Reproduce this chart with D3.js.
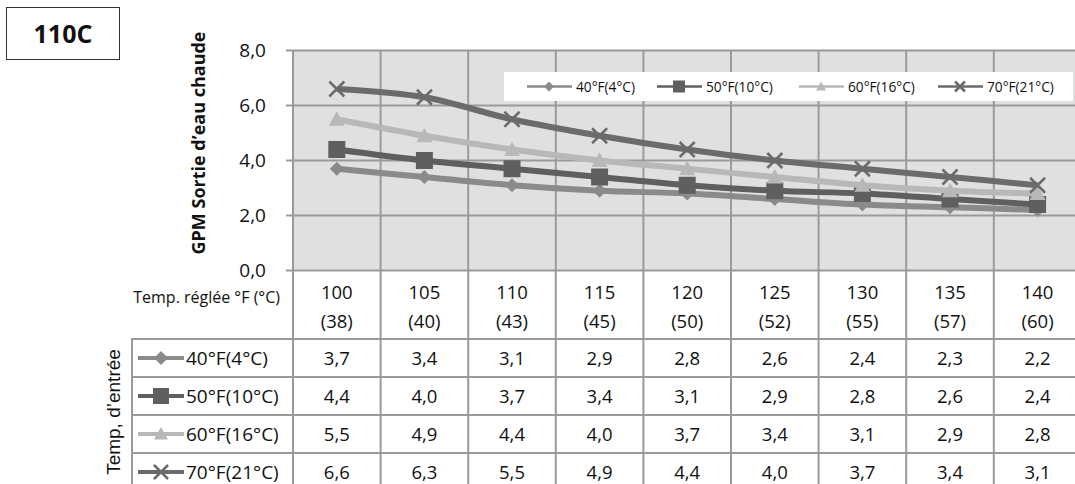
<!DOCTYPE html>
<html><head><meta charset="utf-8">
<script src="https://cdn.jsdelivr.net/npm/d3@7"></script>
<style>
html,body{margin:0;padding:0;background:#fff;}
svg{display:block;}
</style></head>
<body>
<svg id="c" width="1075" height="484"></svg>
<script>
const tempF = ["100","105","110","115","120","125","130","135","140"];
const tempC = ["(38)","(40)","(43)","(45)","(50)","(52)","(55)","(57)","(60)"];
const seriesNames = ["40°F(4°C)","50°F(10°C)","60°F(16°C)","70°F(21°C)"];
const s40 = [3.7,3.4,3.1,2.9,2.8,2.6,2.4,2.3,2.2];
const s50 = [4.4,4.0,3.7,3.4,3.1,2.9,2.8,2.6,2.4];
const s60 = [5.5,4.9,4.4,4.0,3.7,3.4,3.1,2.9,2.8];
const s70 = [6.6,6.3,5.5,4.9,4.4,4.0,3.7,3.4,3.1];
const yTicks = [0,2,4,6,8];
const yTickLabels = ["0,0","2,0","4,0","6,0","8,0"];

const seriesValues = [s40,s50,s60,s70];
const colors = ["#8a8a8a","#5f5f5f","#b8b8b8","#6b6b6b"];
const markers = ["diamond","square","triangle","x"];

const svg = d3.select("#c");
const font = "'Open Sans', sans-serif";
const gridCol = "#9a9a9a";

const left = 293, colW = 87.6;
const x = d3.scaleBand().domain(tempF).range([left, left + colW*tempF.length]).padding(0);
const y = d3.scaleLinear().domain([0,8]).range([270.5, 50.5]);
const right = x.range()[1];

// title box
svg.append("rect").attr("x",6.5).attr("y",7.5).attr("width",113).attr("height",52)
  .attr("fill","#fff").attr("stroke","#333").attr("stroke-width",1);
svg.append("text").attr("x",63).attr("y",43).attr("text-anchor","middle")
  .attr("font-family",font).attr("font-weight","bold").attr("font-size",25).attr("fill","#111").text("110C");

// plot background
svg.append("rect").attr("x",left).attr("y",y(8)).attr("width",right-left).attr("height",y(0)-y(8)).attr("fill","#e0e0e0");

// horizontal gridlines
svg.append("g").selectAll("line").data(yTicks).join("line")
  .attr("x1",left-7).attr("x2",right).attr("y1",d=>y(d)).attr("y2",d=>y(d))
  .attr("stroke",gridCol).attr("stroke-width",2);
// vertical gridlines in plot
const edges = tempF.map(d=>x(d)).concat([right]);
svg.append("g").selectAll("line").data(edges).join("line")
  .attr("x1",d=>d).attr("x2",d=>d).attr("y1",y(8)).attr("y2",y(0))
  .attr("stroke",gridCol).attr("stroke-width",2);

// y tick labels
svg.append("g").selectAll("text").data(yTicks).join("text")
  .attr("x",266).attr("y",d=>y(d)+6.5).attr("text-anchor","end")
  .attr("font-family",font).attr("font-size",19).attr("fill","#111")
  .text((d,i)=>yTickLabels[i]);

// y title
svg.append("text").attr("transform","translate(205,143) rotate(-90)").attr("text-anchor","middle")
  .attr("font-family",font).attr("font-weight","bold").attr("font-size",18).attr("fill","#111")
  .text("GPM Sortie d’eau chaude");

// marker drawing
function drawMarker(g, type, cx, cy, color, s){
  if(type==="diamond"){
    g.append("path").attr("d",`M${cx},${cy-s}L${cx+s},${cy}L${cx},${cy+s}L${cx-s},${cy}Z`).attr("fill",color);
  } else if(type==="square"){
    g.append("rect").attr("x",cx-s).attr("y",cy-s).attr("width",2*s).attr("height",2*s).attr("fill",color);
  } else if(type==="triangle"){
    g.append("path").attr("d",`M${cx},${cy-s}L${cx+s},${cy+s*0.8}L${cx-s},${cy+s*0.8}Z`).attr("fill",color);
  } else {
    g.append("path").attr("d",`M${cx-s},${cy-s}L${cx+s},${cy+s}M${cx-s},${cy+s}L${cx+s},${cy-s}`)
      .attr("stroke",color).attr("stroke-width",2.5).attr("fill","none");
  }
}
const mSize = [7,8.5,8,7.5];

// series lines
const line = d3.line().x((d,i)=>x(tempF[i])+x.bandwidth()/2).y(d=>y(d)).curve(d3.curveCatmullRom.alpha(0.5));
seriesValues.forEach((vals,si)=>{
  const g = svg.append("g");
  g.append("path").attr("d",line(vals)).attr("fill","none").attr("stroke",colors[si]).attr("stroke-width",6).attr("stroke-linejoin","round");
  vals.forEach((v,i)=>drawMarker(g, markers[si], x(tempF[i])+x.bandwidth()/2, y(v), colors[si], mSize[si]));
});

// legend
svg.append("rect").attr("x",504).attr("y",72).attr("width",569).attr("height",29).attr("fill","#fff");
const legX = [527, 657, 799, 938];
seriesNames.forEach((n,si)=>{
  const g = svg.append("g");
  const ly = 86.5;
  g.append("line").attr("x1",legX[si]).attr("x2",legX[si]+45).attr("y1",ly).attr("y2",ly).attr("stroke",colors[si]).attr("stroke-width",2.5);
  drawMarker(g, markers[si], legX[si]+22, ly, colors[si], si===1?6:5);
  g.append("text").attr("x",legX[si]+49).attr("y",ly+5).attr("font-family",font).attr("font-size",13.7).attr("fill","#111").text(n);
});

// table
const tableTop = 270.5, headerBottom = 339, rowH = 38, tableLeft = 132;
const rowTops = seriesNames.map((d,i)=>headerBottom + i*rowH);
// header vertical lines
svg.append("g").selectAll("line").data(edges).join("line")
  .attr("x1",d=>d).attr("x2",d=>d).attr("y1",tableTop).attr("y2",484)
  .attr("stroke",gridCol).attr("stroke-width",2);
// left table border
svg.append("line").attr("x1",tableLeft).attr("x2",tableLeft).attr("y1",headerBottom).attr("y2",484).attr("stroke",gridCol).attr("stroke-width",2);
// row lines
svg.append("g").selectAll("line").data(rowTops).join("line")
  .attr("x1",tableLeft-1).attr("x2",right).attr("y1",d=>d).attr("y2",d=>d)
  .attr("stroke",gridCol).attr("stroke-width",2);

// header text
svg.append("text").attr("x",280).attr("y",303).attr("text-anchor","end")
  .attr("font-family",font).attr("font-size",16).attr("fill","#111").text("Temp. réglée °F (°C)");
svg.append("g").selectAll("text").data(tempF).join("text")
  .attr("x",d=>x(d)+x.bandwidth()/2).attr("y",298.5).attr("text-anchor","middle")
  .attr("font-family",font).attr("font-size",18.5).attr("fill","#111").text(d=>d);
svg.append("g").selectAll("text").data(tempC).join("text")
  .attr("x",(d,i)=>x(tempF[i])+x.bandwidth()/2).attr("y",327.5).attr("text-anchor","middle")
  .attr("font-family",font).attr("font-size",18.5).attr("fill","#111").text(d=>d);

// rows
seriesValues.forEach((vals,si)=>{
  const cy = rowTops[si] + rowH/2;
  const g = svg.append("g");
  g.append("line").attr("x1",138).attr("x2",184).attr("y1",cy).attr("y2",cy).attr("stroke",colors[si]).attr("stroke-width",4);
  drawMarker(g, markers[si], 161, cy, colors[si], si===1?8:7);
  g.append("text").attr("x",186).attr("y",cy+7).attr("font-family",font).attr("font-size",19).attr("fill","#111").text(seriesNames[si]);
  g.selectAll("text.v").data(vals).join("text").attr("class","v")
    .attr("x",(d,i)=>x(tempF[i])+x.bandwidth()/2).attr("y",cy+7).attr("text-anchor","middle")
    .attr("font-family",font).attr("font-size",18.5).attr("fill","#111")
    .text(d=>d.toFixed(1).replace(".",","));
});

// row group title
svg.append("text").attr("transform","translate(120,412) rotate(-90)").attr("text-anchor","middle")
  .attr("font-family","'Liberation Sans', Arial, sans-serif").attr("font-size",19).attr("fill","#111")
  .text("Temp, d’entrée");
</script>
</body></html>
